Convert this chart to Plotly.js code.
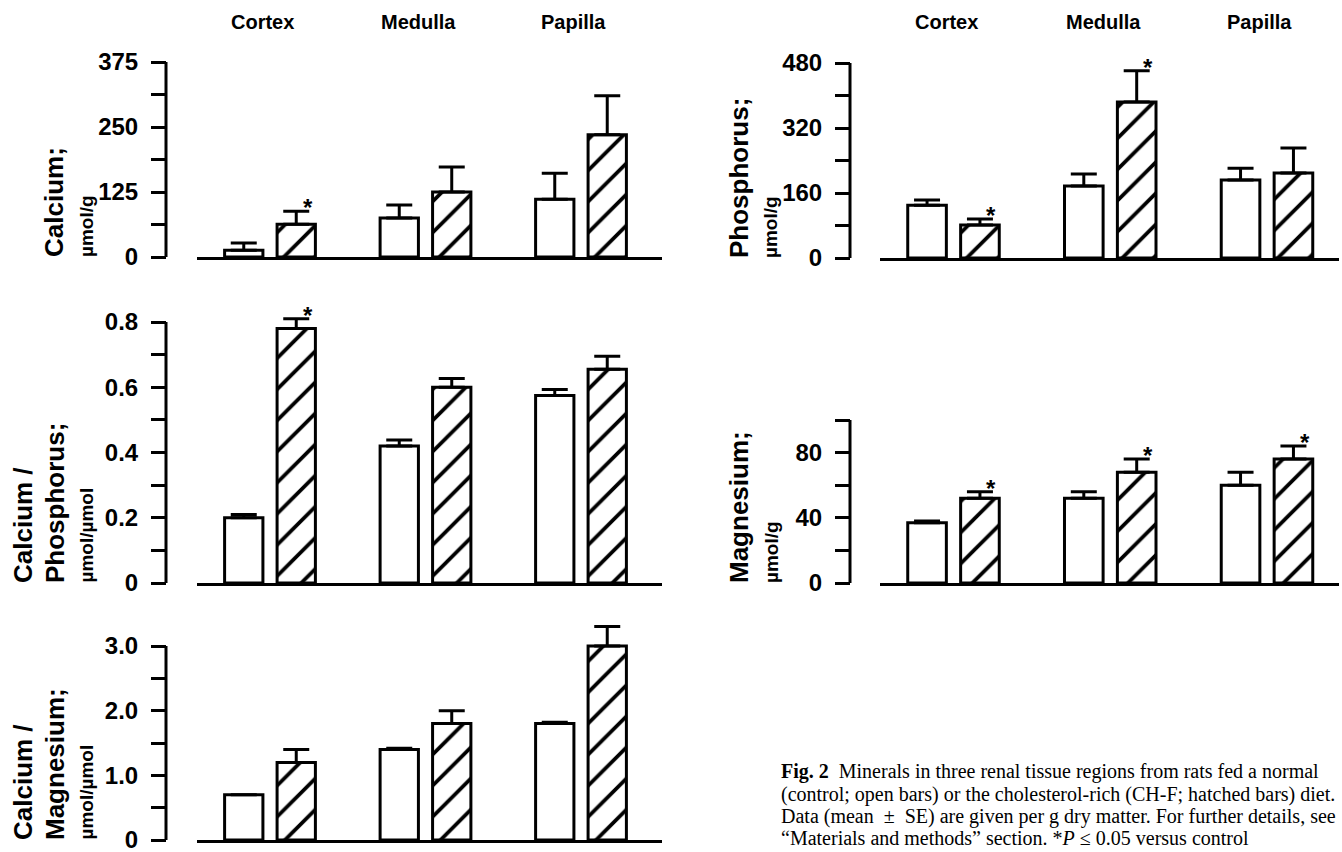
<!DOCTYPE html>
<html><head><meta charset="utf-8">
<script src="https://cdn.plot.ly/plotly-3.0.1.min.js"></script>
<style>html,body{margin:0;padding:0;background:#fff}#chart{width:1342px;height:852px}</style>
</head><body><div id="chart"></div>
<script>
// ---- data ----
const regions = ["Cortex", "Medulla", "Papilla"];

// Calcium; µmol/g
const caControl = [13, 75, 111];
const caControlSE = [14, 25, 50];
const caCHF = [63, 125, 235];
const caCHFSE = [25, 48, 75];
const caSig = [true, false, false];
const caTicks = [0, 62.5, 125, 187.5, 250, 312.5, 375];
const caTickText = ["0", "", "125", "", "250", "", "375"];

// Phosphorus; µmol/g
const pControl = [130, 177, 192];
const pControlSE = [13, 30, 29];
const pCHF = [81, 384, 209];
const pCHFSE = [15, 77, 62];
const pSig = [true, true, false];
const pTicks = [0, 80, 160, 240, 320, 400, 480];
const pTickText = ["0", "", "160", "", "320", "", "480"];

// Calcium / Phosphorus; µmol/µmol
const capControl = [0.20, 0.42, 0.575];
const capControlSE = [0.01, 0.018, 0.018];
const capCHF = [0.78, 0.60, 0.655];
const capCHFSE = [0.03, 0.027, 0.04];
const capSig = [true, false, false];
const capTicks = [0, 0.1, 0.2, 0.3, 0.4, 0.5, 0.6, 0.7, 0.8];
const capTickText = ["0", "", "0.2", "", "0.4", "", "0.6", "", "0.8"];

// Magnesium; µmol/g
const mgControl = [37, 52, 60];
const mgControlSE = [1, 4, 8];
const mgCHF = [52, 68, 76];
const mgCHFSE = [4, 8, 8];
const mgSig = [true, true, true];
const mgTicks = [0, 20, 40, 60, 80, 100];
const mgTickText = ["0", "", "40", "", "80", ""];

// Calcium / Magnesium; µmol/µmol
const camgControl = [0.7, 1.4, 1.8];
const camgControlSE = [0, 0.02, 0.02];
const camgCHF = [1.2, 1.8, 3.0];
const camgCHFSE = [0.2, 0.2, 0.3];
const camgSig = [false, false, false];
const camgTicks = [0, 0.5, 1.0, 1.5, 2.0, 2.5, 3.0];
const camgTickText = ["0", "", "1.0", "", "2.0", "", "3.0"];

const captionLines = [
  "<b>Fig. 2</b>  Minerals in three renal tissue regions from rats fed a normal",
  "(control; open bars) or the cholesterol-rich (CH-F; hatched bars) diet.",
  "Data (mean  ±  SE) are given per g dry matter. For further details, see",
  "“Materials and methods” section. *<i>P</i> ≤ 0.05 versus control"
];

// ---- layout geometry (pixels) ----
const W = 1342, H = 852;
const SANS = "Liberation Sans, Arial, Helvetica, sans-serif";
const SERIF = "Liberation Serif, Times New Roman, serif";
const EXT = 1.15; // head-room above the axis top for caps and asterisks

const panels = [
  {ctrl: caControl, ctrlSE: caControlSE, chf: caCHF, chfSE: caCHFSE, sig: caSig,
   ticks: caTicks, tickText: caTickText, top: 375, col: 0, yTop: 62, yBot: 257,
   titles: ["Calcium;", "µmol/g"]},
  {ctrl: capControl, ctrlSE: capControlSE, chf: capCHF, chfSE: capCHFSE, sig: capSig,
   ticks: capTicks, tickText: capTickText, top: 0.8, col: 0, yTop: 322, yBot: 583,
   titles: ["Calcium /", "Phosphorus;", "µmol/µmol"]},
  {ctrl: camgControl, ctrlSE: camgControlSE, chf: camgCHF, chfSE: camgCHFSE, sig: camgSig,
   ticks: camgTicks, tickText: camgTickText, top: 3.0, col: 0, yTop: 646, yBot: 840,
   titles: ["Calcium /", "Magnesium;", "µmol/µmol"]},
  {ctrl: pControl, ctrlSE: pControlSE, chf: pCHF, chfSE: pCHFSE, sig: pSig,
   ticks: pTicks, tickText: pTickText, top: 480, col: 1, yTop: 63, yBot: 258,
   titles: ["Phosphorus;", "µmol/g"]},
  {ctrl: mgControl, ctrlSE: mgControlSE, chf: mgCHF, chfSE: mgCHFSE, sig: mgSig,
   ticks: mgTicks, tickText: mgTickText, top: 100, col: 1, yTop: 420, yBot: 583,
   titles: ["Magnesium;", "µmol/g"]}
];

const cols = [
  {c0: 270, step: 155.5, axisX: 166, xr: [-0.47, 2.52], titleX2: [54, 86], titleX3: [23, 55, 86]},
  {c0: 953.5, step: 156.75, axisX: 850, xr: [-0.47, 2.46], titleX2: [739, 771], titleX3: [708, 739, 771]}
];

const data = [];
const layout = {
  width: W, height: H,
  margin: {l: 0, r: 0, t: 0, b: 0},
  paper_bgcolor: "#fff", plot_bgcolor: "rgba(0,0,0,0)",
  showlegend: false,
  barmode: "group", bargap: 0.325, bargroupgap: 0.27,
  font: {family: SANS, color: "#000"},
  annotations: [], shapes: []
};

panels.forEach((p, i) => {
  const n = i + 1;
  const xa = "x" + n, ya = "y" + n;
  const c = cols[p.col];
  const xl = c.c0 + c.xr[0] * c.step, xr = c.c0 + c.xr[1] * c.step;
  const pxPerUnit = (p.yBot - p.yTop) / p.top;
  const domTopPx = p.yBot - p.top * EXT * pxPerUnit;
  layout["xaxis" + n] = {
    domain: [xl / W, Math.min(xr / W, 1)], range: c.xr, type: "category",
    anchor: ya, showline: true, linewidth: 3, linecolor: "#000",
    ticks: "", showticklabels: false, showgrid: false, zeroline: false, fixedrange: true
  };
  layout["yaxis" + n] = {
    domain: [1 - p.yBot / H, 1 - domTopPx / H], range: [0, p.top * EXT],
    anchor: "free", position: c.axisX / W,
    showline: false,
    ticks: "outside", ticklen: 15, tickwidth: 3, tickcolor: "#000",
    tickvals: p.ticks, ticktext: p.tickText, ticklabelstandoff: 8,
    ticklabeloverflow: "allow",
    tickfont: {family: SANS, size: 24, weight: "bold", color: "#000"},
    showgrid: false, zeroline: false, fixedrange: true
  };
  // y axis line from 0 to the top tick
  layout.shapes.push({
    type: "line", xref: "paper", yref: ya, x0: c.axisX / W, x1: c.axisX / W,
    y0: 0, y1: p.top, line: {color: "#000", width: 3}
  });
  const zeros = p.ctrl.map(() => 0);
  data.push({
    type: "bar", x: regions, y: p.ctrl, xaxis: xa, yaxis: ya, cliponaxis: false,
    marker: {color: "#fff", line: {color: "#000", width: 3}},
    error_y: {type: "data", array: p.ctrlSE, arrayminus: zeros, symmetric: false,
              color: "#000", thickness: 3, width: 13}
  });
  data.push({
    type: "bar", x: regions, y: p.chf, xaxis: xa, yaxis: ya, cliponaxis: false,
    marker: {color: "#fff", line: {color: "#000", width: 3},
             pattern: {shape: "/", fgcolor: "#000", bgcolor: "#fff", size: 22, solidity: 0.17}},
    error_y: {type: "data", array: p.chfSE, arrayminus: zeros, symmetric: false,
              color: "#000", thickness: 3, width: 13}
  });
  // significance asterisks
  p.sig.forEach((s, k) => {
    if (!s) return;
    layout.annotations.push({
      xref: xa, yref: ya, x: regions[k], y: p.chf[k] + p.chfSE[k],
      xshift: 38, yshift: -12, yanchor: "bottom", xanchor: "center", showarrow: false,
      text: "*", font: {family: SANS, size: 24, weight: "bold", color: "#000"}
    });
  });
  // y titles
  const xs = p.titles.length === 3 ? c.titleX3 : c.titleX2;
  p.titles.forEach((t, k) => {
    const isUnit = k === p.titles.length - 1;
    layout.annotations.push({
      xref: "paper", yref: "paper", x: xs[k] / W, y: 1 - (p.yBot + 2) / H,
      xanchor: "center", yanchor: "bottom", textangle: -90, showarrow: false,
      text: t, font: {family: SANS, size: isUnit ? 19 : 26, weight: "bold", color: "#000"}
    });
  });
});

// column headers
["x1", "x4"].forEach(xa => {
  regions.forEach(r => {
    layout.annotations.push({
      xref: xa, yref: "paper", x: r, y: 1 - 22 / H, xshift: -7,
      xanchor: "center", yanchor: "middle", showarrow: false,
      text: r, font: {family: SANS, size: 20, weight: "bold", color: "#000"}
    });
  });
});

// caption
const capY = [771, 794, 816, 838];
captionLines.forEach((t, k) => {
  layout.annotations.push({
    xref: "paper", yref: "paper", x: 779 / W, y: 1 - capY[k] / H,
    xanchor: "left", yanchor: "middle", showarrow: false, align: "left",
    text: t, font: {family: SERIF, size: 20, color: "#000"}
  });
});

Plotly.newPlot("chart", data, layout, {displayModeBar: false, staticPlot: true});
</script>
</body></html>
